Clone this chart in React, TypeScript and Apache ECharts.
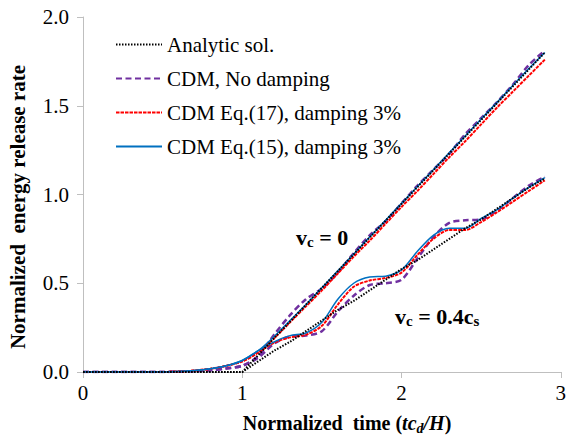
import React, { useEffect, useRef } from "react";
import * as echarts from "echarts";

const T = [0, 0.1, 0.2, 0.3, 0.4, 0.5, 0.6, 0.7, 0.8, 0.9, 1.0, 1.1, 1.2, 1.3, 1.4, 1.5, 1.6, 1.7, 1.8, 1.9, 2.0, 2.1, 2.2, 2.3, 2.4, 2.5, 2.6, 2.7, 2.8, 2.9];

// v_c = 0
const analytic0 = [0, 0, 0, 0, 0, 0, 0, 0, 0, 0, 0, 0.095, 0.19, 0.284, 0.379, 0.474, 0.568, 0.663, 0.758, 0.852, 0.947, 1.042, 1.136, 1.231, 1.326, 1.42, 1.515, 1.61, 1.705, 1.8];
const noDamp0 = [0, 0, 0, 0, 0, 0, 0.002, 0.005, 0.01, 0.02, 0.035, 0.09, 0.21, 0.32, 0.41, 0.47, 0.56, 0.67, 0.77, 0.85, 0.95, 1.05, 1.14, 1.23, 1.34, 1.43, 1.52, 1.62, 1.73, 1.81];
const eq17_0 = [0, 0, 0, 0, 0, 0, 0.003, 0.008, 0.018, 0.035, 0.06, 0.11, 0.19, 0.28, 0.37, 0.46, 0.555, 0.65, 0.74, 0.835, 0.93, 1.02, 1.115, 1.21, 1.3, 1.395, 1.49, 1.58, 1.67, 1.76];
const eq15_0 = [0, 0, 0, 0, 0, 0, 0.003, 0.008, 0.018, 0.035, 0.065, 0.12, 0.2, 0.29, 0.38, 0.475, 0.57, 0.665, 0.76, 0.855, 0.95, 1.045, 1.14, 1.235, 1.33, 1.425, 1.52, 1.615, 1.71, 1.8];

// v_c = 0.4 c_s
const analytic4 = [0, 0, 0, 0, 0, 0, 0, 0, 0, 0, 0, 0.06, 0.12, 0.17, 0.23, 0.29, 0.35, 0.4, 0.46, 0.52, 0.58, 0.63, 0.69, 0.75, 0.81, 0.86, 0.92, 0.98, 1.04, 1.09];
const noDamp4 = [0, 0, 0, 0, 0, 0, 0.002, 0.005, 0.01, 0.02, 0.035, 0.08, 0.16, 0.2, 0.205, 0.23, 0.34, 0.43, 0.49, 0.5, 0.52, 0.64, 0.76, 0.84, 0.855, 0.86, 0.91, 0.98, 1.05, 1.1];
const eq17_4 = [0, 0, 0, 0, 0, 0, 0.003, 0.008, 0.018, 0.035, 0.06, 0.11, 0.165, 0.195, 0.21, 0.26, 0.38, 0.48, 0.515, 0.53, 0.56, 0.66, 0.75, 0.8, 0.8, 0.845, 0.9, 0.96, 1.02, 1.08];
const eq15_4 = [0, 0, 0, 0, 0, 0, 0.003, 0.008, 0.018, 0.035, 0.065, 0.12, 0.17, 0.205, 0.22, 0.28, 0.41, 0.5, 0.535, 0.54, 0.575, 0.68, 0.77, 0.81, 0.81, 0.865, 0.915, 0.98, 1.04, 1.095];

const NAMES = ["Analytic sol.", "CDM, No damping", "CDM Eq.(17), damping 3%", "CDM Eq.(15), damping 3%"];
const xTicks = [0, 1, 2, 3];
const yTicks = [0, 0.5, 1.0, 1.5, 2.0];

const FONT = "Liberation Serif";

const pair = (vals: number[]) => T.map((t, i) => [t, vals[i]]);

const CSS = `#chart-box text, #chart-box tspan { font-family: "Liberation Serif", "Times New Roman", serif !important; }`;

export default function App() {
  const ref = useRef<HTMLDivElement>(null);
  useEffect(() => {
    if (!ref.current) return;
    const chart = echarts.init(ref.current, undefined, { renderer: "svg" });
    const styles: Record<string, any> = {
      [NAMES[0]]: { color: "#000000", width: 2, type: [1.5, 1.5] },
      [NAMES[1]]: { color: "#7030a0", width: 2.5, type: [6, 3.5] },
      [NAMES[2]]: { color: "#ff0000", width: 2, type: [3.5, 1] },
      [NAMES[3]]: { color: "#0070c0", width: 1.5, type: "solid" },
    };
    const mk = (name: string, vals: number[], smooth: number | boolean, z: number) => ({
      name,
      type: "line",
      data: pair(vals),
      showSymbol: false,
      symbol: "none",
      smooth,
      z,
      itemStyle: { color: styles[name].color },
      lineStyle: styles[name],
    });
    chart.setOption({
      animation: false,
      textStyle: { fontFamily: FONT },
      grid: { left: 83, right: 3, top: 17, bottom: 71 },
      legend: {
        data: NAMES,
        orient: "vertical",
        left: 110,
        top: 29,
        itemWidth: 46,
        itemHeight: 14,
        itemGap: 13,
        itemStyle: { opacity: 0 },
        textStyle: { fontFamily: FONT, fontSize: 21, color: "#000000" },
      },
      xAxis: {
        type: "value",
        min: 0,
        max: 3,
        interval: 1,
        axisLine: { lineStyle: { color: "#bfbfbf", width: 1 } },
        axisTick: { show: true, length: 6, lineStyle: { color: "#bfbfbf" } },
        splitLine: { show: false },
        axisLabel: {
          margin: 10,
          fontFamily: FONT,
          fontSize: 21,
          color: "#000000",
          formatter: (val: number) => (xTicks.includes(val) ? String(val) : ""),
        },
      },
      yAxis: {
        type: "value",
        min: 0,
        max: 2,
        interval: 0.5,
        axisLine: { show: true, lineStyle: { color: "#bfbfbf", width: 1 } },
        axisTick: { show: true, length: 6, lineStyle: { color: "#bfbfbf" } },
        splitLine: { show: false },
        axisLabel: {
          margin: 14,
          fontFamily: FONT,
          fontSize: 21,
          color: "#000000",
          formatter: (val: number) => (yTicks.includes(val) ? val.toFixed(1) : ""),
        },
      },
      graphic: [
        {
          type: "text",
          x: 347,
          y: 423,
          style: {
            text: "{b|Normalized  time (}{bi|tc}{sub|d}{bi|/H}{b|)}",
            align: "center",
            verticalAlign: "middle",
            rich: {
              b: { fontFamily: FONT, fontSize: 20, fontWeight: "bold", fill: "#000" },
              bi: { fontFamily: FONT, fontSize: 20, fontWeight: "bold", fontStyle: "italic", fill: "#000" },
              sub: { fontFamily: FONT, fontSize: 14, fontWeight: "bold", fontStyle: "italic", fill: "#000", padding: [10, 0, 0, 0] },
            },
          },
        },
        {
          type: "text",
          x: 18,
          y: 207,
          rotation: Math.PI / 2,
          style: {
            text: "Normalized  energy release rate",
            align: "center",
            verticalAlign: "middle",
            fontFamily: FONT,
            fontSize: 21,
            fontWeight: "bold",
            fill: "#000",
          },
        },
        {
          type: "text",
          x: 296,
          y: 237,
          style: {
            text: "{b|v}{sub|c}{b| = 0}",
            align: "left",
            verticalAlign: "middle",
            rich: {
              b: { fontFamily: FONT, fontSize: 22, fontWeight: "bold", fill: "#000" },
              sub: { fontFamily: FONT, fontSize: 15, fontWeight: "bold", fill: "#000", padding: [10, 0, 0, 0] },
            },
          },
        },
        {
          type: "text",
          x: 395,
          y: 316,
          style: {
            text: "{b|v}{sub|c}{b| = 0.4c}{sub|s}",
            align: "left",
            verticalAlign: "middle",
            rich: {
              b: { fontFamily: FONT, fontSize: 22, fontWeight: "bold", fill: "#000" },
              sub: { fontFamily: FONT, fontSize: 15, fontWeight: "bold", fill: "#000", padding: [10, 0, 0, 0] },
            },
          },
        },
      ],
      series: [
        mk(NAMES[1], noDamp0, 0.3, 2),
        mk(NAMES[1], noDamp4, 0.3, 2),
        mk(NAMES[2], eq17_0, 0.3, 3),
        mk(NAMES[2], eq17_4, 0.3, 3),
        mk(NAMES[3], eq15_0, 0.3, 4),
        mk(NAMES[3], eq15_4, 0.3, 4),
        mk(NAMES[0], analytic0, false, 5),
        mk(NAMES[0], analytic4, false, 5),
      ],
    });
    return () => chart.dispose();
  }, []);
  return (
    <>
      <style>{CSS}</style>
      <div
        id="chart-box"
        ref={ref}
        style={{ position: "fixed", left: 0, top: 0, width: 569, height: 443, background: "#fff" }}
      />
    </>
  );
}
